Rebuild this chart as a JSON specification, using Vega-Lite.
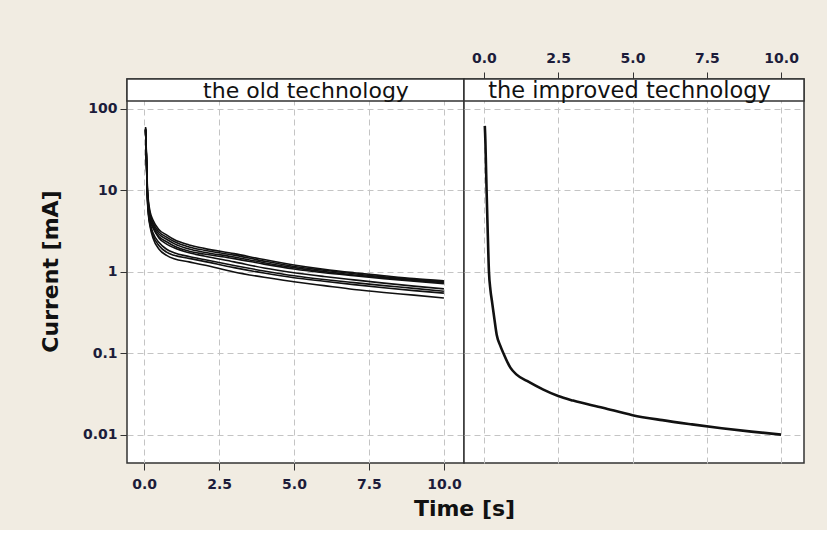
{
  "$schema": "https://vega.github.io/schema/vega-lite/v6.json",
  "background": "#f1ece2",
  "padding": {"left": 38, "top": 50, "right": 22, "bottom": 10},
  "spacing": 0,
  "bounds": "flush",
  "config": {
    "font": "DejaVu Sans",
    "view": {"stroke": "#333333", "strokeWidth": 1.5, "fill": "white"},
    "axis": {
      "labelFont": "DejaVu Sans", "labelFontWeight": "bold", "labelFontSize": 14, "labelColor": "#1c1c3a",
      "tickColor": "#333333", "tickSize": 7, "labelPadding": 6,
      "gridColor": "#c4c4c4", "gridDash": [6, 4], "gridWidth": 1, "domain": false,
      "titleFont": "DejaVu Sans", "titleFontSize": 22, "titleFontWeight": "bold", "titleColor": "#111111"
    }
  },
  "resolve": {"scale": {"x": "independent", "y": "independent"}},
  "datasets": {
    "old": [
      {"run":"A1","t":0.05,"I":60},{"run":"A1","t":0.08,"I":27},{"run":"A1","t":0.11,"I":11},{"run":"A1","t":0.15,"I":7.2},{"run":"A1","t":0.2,"I":5.5},{"run":"A1","t":0.3,"I":4.3},{"run":"A1","t":0.5,"I":3.3},{"run":"A1","t":0.75,"I":2.85},{"run":"A1","t":1,"I":2.5},{"run":"A1","t":1.5,"I":2.15},{"run":"A1","t":2,"I":1.95},{"run":"A1","t":3,"I":1.68},{"run":"A1","t":4,"I":1.42},{"run":"A1","t":5,"I":1.22},{"run":"A1","t":6,"I":1.08},{"run":"A1","t":7,"I":0.98},{"run":"A1","t":8,"I":0.9},{"run":"A1","t":9,"I":0.83},{"run":"A1","t":10,"I":0.78},
      {"run":"A2","t":0.05,"I":58},{"run":"A2","t":0.08,"I":25},{"run":"A2","t":0.11,"I":10.3},{"run":"A2","t":0.15,"I":6.7},{"run":"A2","t":0.2,"I":5.15},{"run":"A2","t":0.3,"I":4.0},{"run":"A2","t":0.5,"I":3.1},{"run":"A2","t":0.75,"I":2.68},{"run":"A2","t":1,"I":2.37},{"run":"A2","t":1.5,"I":2.03},{"run":"A2","t":2,"I":1.85},{"run":"A2","t":3,"I":1.61},{"run":"A2","t":4,"I":1.36},{"run":"A2","t":5,"I":1.17},{"run":"A2","t":6,"I":1.05},{"run":"A2","t":7,"I":0.95},{"run":"A2","t":8,"I":0.87},{"run":"A2","t":9,"I":0.81},{"run":"A2","t":10,"I":0.76},
      {"run":"A3","t":0.05,"I":57},{"run":"A3","t":0.08,"I":24},{"run":"A3","t":0.11,"I":9.7},{"run":"A3","t":0.15,"I":6.3},{"run":"A3","t":0.2,"I":4.85},{"run":"A3","t":0.3,"I":3.78},{"run":"A3","t":0.5,"I":2.9},{"run":"A3","t":0.75,"I":2.52},{"run":"A3","t":1,"I":2.23},{"run":"A3","t":1.5,"I":1.91},{"run":"A3","t":2,"I":1.75},{"run":"A3","t":3,"I":1.53},{"run":"A3","t":4,"I":1.3},{"run":"A3","t":5,"I":1.13},{"run":"A3","t":6,"I":1.01},{"run":"A3","t":7,"I":0.92},{"run":"A3","t":8,"I":0.85},{"run":"A3","t":9,"I":0.79},{"run":"A3","t":10,"I":0.74},
      {"run":"A4","t":0.05,"I":56},{"run":"A4","t":0.08,"I":23},{"run":"A4","t":0.11,"I":9.2},{"run":"A4","t":0.15,"I":5.9},{"run":"A4","t":0.2,"I":4.5},{"run":"A4","t":0.3,"I":3.5},{"run":"A4","t":0.5,"I":2.7},{"run":"A4","t":0.75,"I":2.35},{"run":"A4","t":1,"I":2.08},{"run":"A4","t":1.5,"I":1.8},{"run":"A4","t":2,"I":1.66},{"run":"A4","t":3,"I":1.46},{"run":"A4","t":4,"I":1.25},{"run":"A4","t":5,"I":1.09},{"run":"A4","t":6,"I":0.98},{"run":"A4","t":7,"I":0.9},{"run":"A4","t":8,"I":0.83},{"run":"A4","t":9,"I":0.77},{"run":"A4","t":10,"I":0.72},
      {"run":"B4","t":0.05,"I":56},{"run":"B4","t":0.08,"I":23},{"run":"B4","t":0.11,"I":9},{"run":"B4","t":0.15,"I":5.6},{"run":"B4","t":0.2,"I":4.3},{"run":"B4","t":0.3,"I":3.5},{"run":"B4","t":0.5,"I":2.6},{"run":"B4","t":0.75,"I":2.2},{"run":"B4","t":1,"I":1.98},{"run":"B4","t":1.5,"I":1.72},{"run":"B4","t":2,"I":1.57},{"run":"B4","t":3,"I":1.33},{"run":"B4","t":4,"I":1.12},{"run":"B4","t":5,"I":0.98},{"run":"B4","t":6,"I":0.88},{"run":"B4","t":7,"I":0.8},{"run":"B4","t":8,"I":0.73},{"run":"B4","t":9,"I":0.67},{"run":"B4","t":10,"I":0.62},
      {"run":"B3","t":0.05,"I":55},{"run":"B3","t":0.08,"I":22},{"run":"B3","t":0.11,"I":8.5},{"run":"B3","t":0.15,"I":5.2},{"run":"B3","t":0.2,"I":4.0},{"run":"B3","t":0.3,"I":3.0},{"run":"B3","t":0.5,"I":2.3},{"run":"B3","t":0.75,"I":1.9},{"run":"B3","t":1,"I":1.72},{"run":"B3","t":1.5,"I":1.55},{"run":"B3","t":2,"I":1.42},{"run":"B3","t":3,"I":1.2},{"run":"B3","t":4,"I":1.03},{"run":"B3","t":5,"I":0.9},{"run":"B3","t":6,"I":0.81},{"run":"B3","t":7,"I":0.74},{"run":"B3","t":8,"I":0.68},{"run":"B3","t":9,"I":0.63},{"run":"B3","t":10,"I":0.58},
      {"run":"B2","t":0.05,"I":55},{"run":"B2","t":0.08,"I":22},{"run":"B2","t":0.11,"I":8.3},{"run":"B2","t":0.15,"I":5.0},{"run":"B2","t":0.2,"I":3.8},{"run":"B2","t":0.3,"I":2.8},{"run":"B2","t":0.5,"I":2.1},{"run":"B2","t":0.75,"I":1.75},{"run":"B2","t":1,"I":1.6},{"run":"B2","t":1.5,"I":1.47},{"run":"B2","t":2,"I":1.35},{"run":"B2","t":3,"I":1.13},{"run":"B2","t":4,"I":0.97},{"run":"B2","t":5,"I":0.85},{"run":"B2","t":6,"I":0.77},{"run":"B2","t":7,"I":0.7},{"run":"B2","t":8,"I":0.64},{"run":"B2","t":9,"I":0.59},{"run":"B2","t":10,"I":0.55},
      {"run":"B1","t":0.05,"I":55},{"run":"B1","t":0.08,"I":22},{"run":"B1","t":0.11,"I":8},{"run":"B1","t":0.15,"I":4.8},{"run":"B1","t":0.2,"I":3.6},{"run":"B1","t":0.3,"I":2.6},{"run":"B1","t":0.5,"I":1.9},{"run":"B1","t":0.75,"I":1.6},{"run":"B1","t":1,"I":1.45},{"run":"B1","t":1.5,"I":1.33},{"run":"B1","t":2,"I":1.22},{"run":"B1","t":3,"I":1.0},{"run":"B1","t":4,"I":0.86},{"run":"B1","t":5,"I":0.76},{"run":"B1","t":6,"I":0.68},{"run":"B1","t":7,"I":0.61},{"run":"B1","t":8,"I":0.56},{"run":"B1","t":9,"I":0.52},{"run":"B1","t":10,"I":0.48}
    ],
    "improved": [
      {"t":0.03,"I":62},{"t":0.05,"I":40},{"t":0.07,"I":20},{"t":0.09,"I":10},{"t":0.12,"I":4},{"t":0.17,"I":1.0},{"t":0.22,"I":0.6},{"t":0.27,"I":0.44},{"t":0.35,"I":0.27},{"t":0.43,"I":0.17},{"t":0.55,"I":0.125},{"t":0.66,"I":0.1},{"t":0.89,"I":0.067},{"t":1.1,"I":0.055},{"t":1.45,"I":0.046},{"t":2,"I":0.036},{"t":2.5,"I":0.030},{"t":3,"I":0.0264},{"t":4,"I":0.0216},{"t":5,"I":0.0175},{"t":6,"I":0.0152},{"t":7,"I":0.0135},{"t":8,"I":0.0121},{"t":9,"I":0.011},{"t":10,"I":0.0101}
    ]
  },
  "hconcat": [
    {
      "width": 337,
      "height": 384,
      "layer": [
        {
          "data": {"name": "old"},
          "mark": {"type": "line", "color": "#111111", "strokeWidth": 1.6, "interpolate": "monotone"},
          "encoding": {
            "x": {"field": "t", "type": "quantitative",
              "scale": {"domain": [-0.57, 10.67], "nice": false, "zero": false},
              "axis": {"orient": "bottom", "values": [0, 2.5, 5, 7.5, 10], "format": ".1f", "title": "Time [s]", "titleX": 337, "titleAlign": "center", "titlePadding": 7, "labelPadding": 7}},
            "y": {"field": "I", "type": "quantitative",
              "scale": {"type": "log", "domain": [0.00453, 233.4], "nice": false},
              "axis": {"values": [0.01, 0.1, 1, 10, 100], "format": "~g", "title": "Current [mA]", "titlePadding": 20, "labelPadding": 3}},
            "detail": {"field": "run"}
          }
        },
        {
          "data": {"values": [{}]},
          "mark": {"type": "rect", "fill": "white", "stroke": "#333333", "strokeWidth": 1.5},
          "encoding": {
            "x": {"value": 0}, "x2": {"value": "width"},
            "y": {"datum": 125.3, "type": "quantitative"}, "y2": {"value": 0}
          }
        },
        {
          "data": {"values": [{}]},
          "mark": {"type": "text", "fontSize": 22, "color": "#111111", "baseline": "middle", "align": "center"},
          "encoding": {
            "x": {"datum": 5.4, "type": "quantitative"},
            "y": {"datum": 168, "type": "quantitative"},
            "text": {"value": "the old technology"}
          }
        }
      ]
    },
    {
      "width": 340,
      "height": 384,
      "layer": [
        {
          "data": {"name": "improved"},
          "mark": {"type": "line", "color": "#111111", "strokeWidth": 2.6, "interpolate": "monotone"},
          "encoding": {
            "x": {"field": "t", "type": "quantitative",
              "scale": {"domain": [-0.67, 10.77], "nice": false, "zero": false},
              "axis": {"orient": "top", "values": [0, 2.5, 5, 7.5, 10], "format": ".1f", "title": null, "labelPadding": 7}},
            "y": {"field": "I", "type": "quantitative",
              "scale": {"type": "log", "domain": [0.00453, 233.4], "nice": false},
              "axis": {"values": [0.01, 0.1, 1, 10, 100], "labels": false, "ticks": false, "title": null}}
          }
        },
        {
          "data": {"values": [{}]},
          "mark": {"type": "rect", "fill": "white", "stroke": "#333333", "strokeWidth": 1.5},
          "encoding": {
            "x": {"value": 0}, "x2": {"value": "width"},
            "y": {"datum": 125.3, "type": "quantitative"}, "y2": {"value": 0}
          }
        },
        {
          "data": {"values": [{}]},
          "mark": {"type": "text", "fontSize": 22.5, "color": "#111111", "baseline": "middle", "align": "center"},
          "encoding": {
            "x": {"datum": 4.9, "type": "quantitative"},
            "y": {"datum": 168, "type": "quantitative"},
            "text": {"value": "the improved technology"}
          }
        }
      ]
    }
  ]
}
